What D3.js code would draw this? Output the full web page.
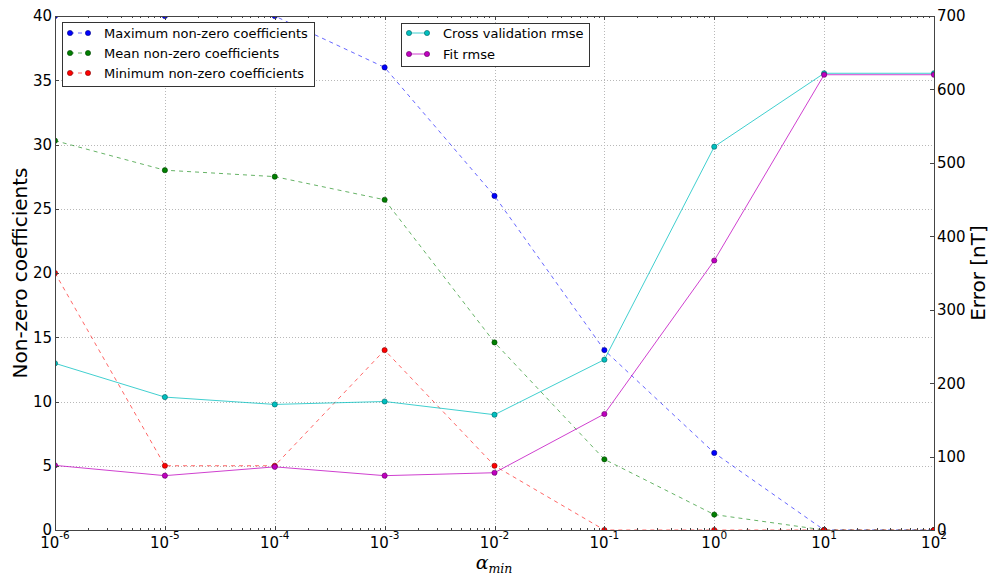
<!DOCTYPE html>
<html>
<head>
<meta charset="utf-8">
<script src="https://cdn.jsdelivr.net/npm/d3@7/dist/d3.min.js"></script>
<style>
  html, body { margin: 0; padding: 0; background: #fff; }
  svg { display: block; font-family: "DejaVu Sans", sans-serif; }
</style>
</head>
<body>
<svg id="chart" width="990" height="579"></svg>
<script>
// Regularisation strengths (alpha_min)
const alphas = [1e-6, 1e-5, 1e-4, 1e-3, 1e-2, 1e-1, 1e0, 1e1, 1e2];
const xTickExponents = [-6, -5, -4, -3, -2, -1, 0, 1, 2];

// Non-zero coefficient counts (left axis)
const maxCoef  = [40, 40, 40, 36, 26, 14, 6, 0, 0];
const meanCoef = [30.3, 28.0, 27.5, 25.7, 14.6, 5.5, 1.2, 0, 0];
const minCoef  = [20, 5, 5, 14, 5, 0, 0, 0, 0];

// Errors in nT (right axis)
const cvRmse  = [227, 181, 171, 175, 157, 232, 522, 622, 622];
const fitRmse = [88, 74, 86, 74, 78, 158, 367, 620, 620];

const leftTicks  = [0, 5, 10, 15, 20, 25, 30, 35, 40];
const rightTicks = [0, 100, 200, 300, 400, 500, 600, 700];

const svg = d3.select("#chart");
const L = 55, R = 934, T = 16, B = 530;

const x  = d3.scaleLog().domain([1e-6, 1e2]).range([L, R]);
const yL = d3.scaleLinear().domain([0, 40]).range([B, T]);
const yR = d3.scaleLinear().domain([0, 700]).range([B, T]);

svg.append("defs").append("clipPath").attr("id", "plotclip")
  .append("rect").attr("x", L).attr("y", T).attr("width", R - L).attr("height", B - T);

// grid
const grid = svg.append("g").attr("stroke", "#b8b8b8").attr("stroke-width", 1)
  .attr("stroke-dasharray", "1,2");
alphas.forEach(a => {
  const xx = Math.round(x(a)) + 0.5;
  grid.append("line").attr("x1", xx).attr("x2", xx).attr("y1", T).attr("y2", B);
});
leftTicks.forEach(v => {
  const yy = Math.round(yL(v)) + 0.5;
  grid.append("line").attr("x1", L).attr("x2", R).attr("y1", yy).attr("y2", yy);
});

// series drawing helper
function drawSeries(g, vals, yScale, color, edge, dashed, alpha) {
  const line = d3.line().x((d, i) => x(alphas[i])).y(d => yScale(d));
  g.append("path").datum(vals).attr("d", line)
    .attr("fill", "none").attr("stroke", color).attr("stroke-width", 1)
    .attr("stroke-opacity", alpha)
    .attr("stroke-dasharray", dashed ? "4,4" : null);
  g.selectAll(null).data(vals).enter().append("circle")
    .attr("cx", (d, i) => x(alphas[i])).attr("cy", d => yScale(d))
    .attr("r", 2.6).attr("fill", color).attr("stroke", edge).attr("stroke-width", 0.6);
}

const plotL = svg.append("g").attr("clip-path", "url(#plotclip)");
drawSeries(plotL, maxCoef, yL, "#0000ff", "#000080", true, 0.6);
drawSeries(plotL, meanCoef, yL, "#008000", "#004000", true, 0.6);
drawSeries(plotL, minCoef, yL, "#ff0000", "#800000", true, 0.6);

// legend box with marker-line handles
function legend(gx, gy, w, h, items, rowY) {
  const g = svg.append("g");
  g.append("rect").attr("x", gx + 0.5).attr("y", gy + 0.5).attr("width", w).attr("height", h)
    .attr("fill", "#fff").attr("stroke", "#333").attr("stroke-width", 1);
  items.forEach((it, i) => {
    const yy = rowY[i];
    g.append("line").attr("x1", gx + 8).attr("x2", gx + 26).attr("y1", yy).attr("y2", yy)
      .attr("stroke", it.color).attr("stroke-opacity", it.alpha)
      .attr("stroke-dasharray", it.dashed ? "4,4" : null);
    [gx + 8, gx + 26].forEach(cx => g.append("circle").attr("cx", cx).attr("cy", yy).attr("r", 2.6)
      .attr("fill", it.color).attr("stroke", it.edge).attr("stroke-width", 0.6));
    g.append("text").attr("x", gx + 42).attr("y", yy).attr("dy", "0.35em")
      .attr("font-size", 13).attr("fill", "#000").text(it.label);
  });
}
legend(62, 22, 252, 64, [
  { label: "Maximum non-zero coefficients", color: "#0000ff", edge: "#000080", dashed: true, alpha: 0.6 },
  { label: "Mean non-zero coefficients", color: "#008000", edge: "#004000", dashed: true, alpha: 0.6 },
  { label: "Minimum non-zero coefficients", color: "#ff0000", edge: "#800000", dashed: true, alpha: 0.6 }
], [33, 53, 73]);

const plotR = svg.append("g").attr("clip-path", "url(#plotclip)");
drawSeries(plotR, cvRmse, yR, "#00bfbf", "#006060", false, 0.75);
drawSeries(plotR, fitRmse, yR, "#bf00bf", "#600060", false, 0.75);

legend(401, 23, 188, 43, [
  { label: "Cross validation rmse", color: "#00bfbf", edge: "#006060", dashed: false, alpha: 0.75 },
  { label: "Fit rmse", color: "#bf00bf", edge: "#600060", dashed: false, alpha: 0.75 }
], [33, 54]);

// frame
svg.append("rect").attr("x", L + 0.5).attr("y", T + 0.5).attr("width", R - L).attr("height", B - T)
  .attr("fill", "none").attr("stroke", "#444").attr("stroke-width", 1);

// ticks (inward, with log minor ticks on top and bottom)
const tk = svg.append("g").attr("stroke", "#444").attr("stroke-width", 1);
leftTicks.forEach(v => {
  const yy = Math.round(yL(v)) + 0.5;
  tk.append("line").attr("x1", L).attr("x2", L + 4).attr("y1", yy).attr("y2", yy);
});
rightTicks.forEach(v => {
  const yy = Math.round(yR(v)) + 0.5;
  tk.append("line").attr("x1", R - 4).attr("x2", R).attr("y1", yy).attr("y2", yy);
});
for (let e = -6; e <= 2; e++) {
  const xx = Math.round(x(Math.pow(10, e))) + 0.5;
  tk.append("line").attr("x1", xx).attr("x2", xx).attr("y1", B).attr("y2", B - 4);
  tk.append("line").attr("x1", xx).attr("x2", xx).attr("y1", T).attr("y2", T + 4);
  if (e < 2) {
    for (let m = 2; m <= 9; m++) {
      const xm = Math.round(x(m * Math.pow(10, e))) + 0.5;
      tk.append("line").attr("x1", xm).attr("x2", xm).attr("y1", B).attr("y2", B - 2);
      tk.append("line").attr("x1", xm).attr("x2", xm).attr("y1", T).attr("y2", T + 2);
    }
  }
}

// tick labels
const lab = svg.append("g").attr("fill", "#000").attr("font-size", 15);
leftTicks.forEach(v => {
  lab.append("text").attr("x", L - 3).attr("y", yL(v)).attr("dy", "0.36em")
    .attr("text-anchor", "end").text(v);
});
rightTicks.forEach(v => {
  lab.append("text").attr("x", R + 3).attr("y", yR(v)).attr("dy", "0.36em")
    .attr("text-anchor", "start").text(v);
});
xTickExponents.forEach(e => {
  const t = lab.append("text").attr("x", x(Math.pow(10, e))).attr("y", 548)
    .attr("text-anchor", "middle");
  t.append("tspan").text("10");
  t.append("tspan").attr("font-size", 10.5).attr("dy", -9).text(String(e));
});

// axis titles
svg.append("text").attr("transform", `translate(27,${(T + B) / 2}) rotate(-90)`)
  .attr("text-anchor", "middle").attr("font-size", 20).text("Non-zero coefficients");
svg.append("text").attr("transform", `translate(985,${(T + B) / 2}) rotate(-90)`)
  .attr("text-anchor", "middle").attr("font-size", 20).text("Error [nT]");
const xl = svg.append("text").attr("x", 494).attr("y", 569).attr("text-anchor", "middle")
  .attr("font-family", "DejaVu Serif, serif").attr("font-style", "italic").attr("font-size", 19);
xl.append("tspan").text("α");
xl.append("tspan").attr("font-size", 12.5).attr("dy", 4).text("min");
</script>
</body>
</html>
